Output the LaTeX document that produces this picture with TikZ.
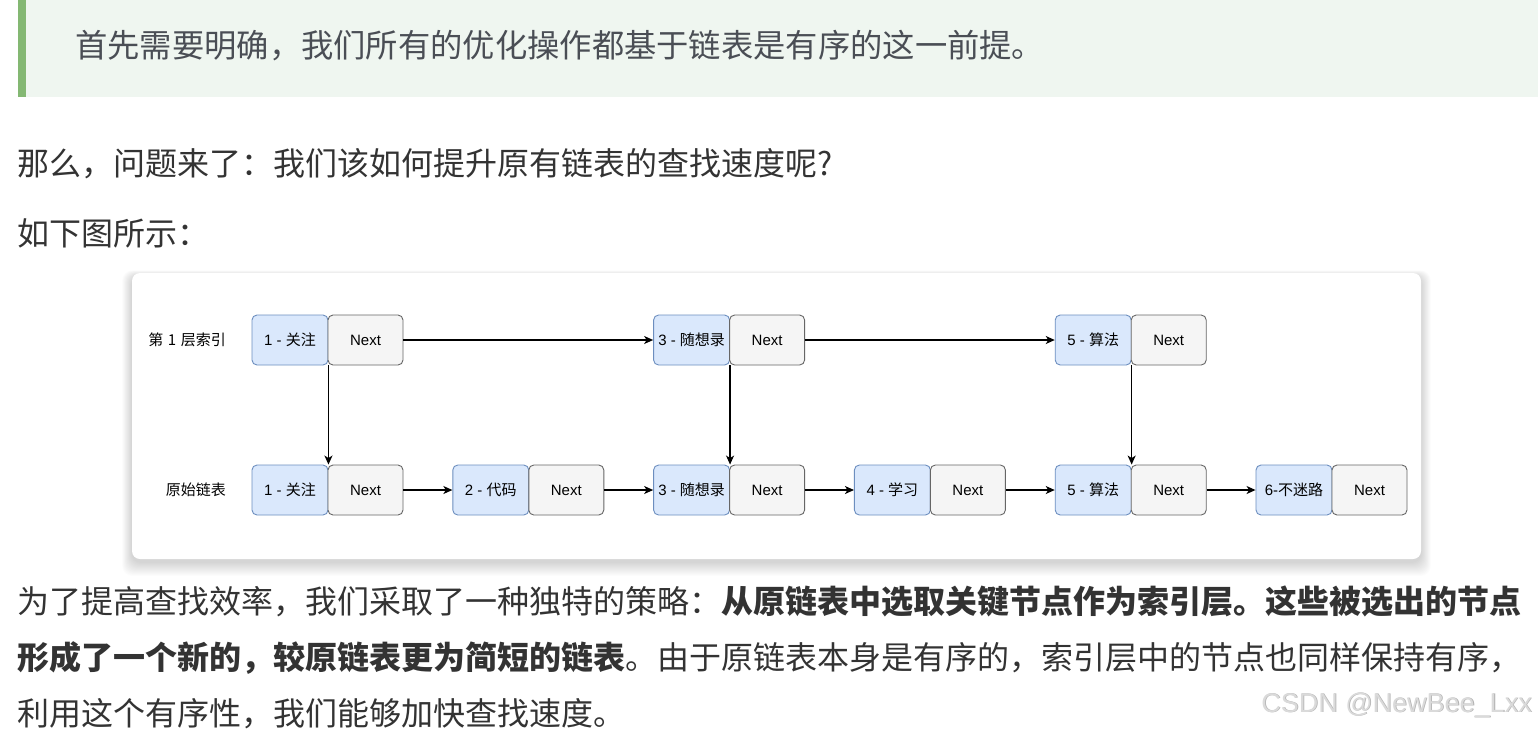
\documentclass[tikz,border=0pt]{standalone}
\usepackage{fontspec}
\setmainfont{Noto Sans CJK SC}
\newfontfamily\latinsans{Liberation Sans}
\usetikzlibrary{arrows.meta}
\definecolor{qbg}{HTML}{EFF6F0}
\definecolor{qbar}{HTML}{84B873}
\definecolor{qtext}{HTML}{4A4E55}
\definecolor{bodytext}{HTML}{333333}
\definecolor{blfill}{HTML}{DAE8FC}
\definecolor{bldraw}{HTML}{6C8EBF}
\definecolor{grfill}{HTML}{F5F5F5}
\definecolor{grdraw}{HTML}{666666}
\definecolor{wmtext}{HTML}{DADADA}
\definecolor{wmshade}{HTML}{B0B0B0}
\begin{document}
\begin{tikzpicture}[x=1pt,y=-1pt,
  bodyline/.style={anchor=base west, inner sep=0pt, text=bodytext, font=\fontsize{32}{40}\selectfont},
  keybox/.style={draw=bldraw, fill=blfill, rounded corners=5pt, minimum width=76pt, minimum height=50pt, inner sep=0pt, line width=0.9pt, font=\fontsize{15}{16}\selectfont},
  nextbox/.style={draw=grdraw, fill=grfill, rounded corners=5pt, minimum width=75pt, minimum height=50pt, inner sep=0pt, line width=0.9pt, font=\latinsans\fontsize{15}{16}\selectfont},
  link/.style={-{Stealth[length=9pt,width=8pt,inset=2.5pt]}, line width=1.3pt, black},
  rowlabel/.style={anchor=east, inner sep=0pt, font=\fontsize{15}{16}\selectfont, text=black}
]
\useasboundingbox (0,0) rectangle (1538,732);
\fill[white] (0,0) rectangle (1538,732);
% blockquote
\fill[qbg] (18,0) rectangle (1538,97);
\fill[qbar] (18,0) rectangle (26,97);
\node[bodyline, text=qtext, font=\fontsize{32.3}{40}\selectfont] (quote) at (75,57) {首先需要明确，我们所有的优化操作都基于链表是有序的这一前提。};
% paragraphs
\node[bodyline] (ask) at (17,175) {那么，问题来了：我们该如何提升原有链表的查找速度呢?};
\node[bodyline] (asfig) at (17,245) {如下图所示：};
% card shadow and card
\foreach \i in {1,...,14} {
  \fill[black, opacity=0.013, rounded corners=10pt] (132-\i*0.7,273-\i*0.4+3) rectangle (1421+\i*0.7,559+\i+3);
}
\fill[white, rounded corners=8pt] (132,273) rectangle (1421,559);
% row labels
\node[rowlabel] (lbltop) at (226,340) {第\hspace{4.5pt}1\hspace{4.5pt}层索引};
\node[rowlabel] (lblbot) at (226,490) {原始链表};
% top row
\node[keybox] (t1k) at (290,340) {{\latinsans 1 - }关注};
\node[nextbox] (t1n) at (365.5,340) {Next};
\node[keybox] (t3k) at (691.6,340) {{\latinsans 3 - }随想录};
\node[nextbox] (t3n) at (767.1,340) {Next};
\node[keybox] (t5k) at (1093.2,340) {{\latinsans 5 - }算法};
\node[nextbox] (t5n) at (1168.7,340) {Next};
% bottom row
\node[keybox] (b1k) at (290,490) {{\latinsans 1 - }关注};
\node[nextbox] (b1n) at (365.5,490) {Next};
\node[keybox] (b2k) at (490.8,490) {{\latinsans 2 - }代码};
\node[nextbox] (b2n) at (566.3,490) {Next};
\node[keybox] (b3k) at (691.6,490) {{\latinsans 3 - }随想录};
\node[nextbox] (b3n) at (767.1,490) {Next};
\node[keybox] (b4k) at (892.4,490) {{\latinsans 4 - }学习};
\node[nextbox] (b4n) at (967.9,490) {Next};
\node[keybox] (b5k) at (1093.2,490) {{\latinsans 5 - }算法};
\node[nextbox] (b5n) at (1168.7,490) {Next};
\node[keybox] (b6k) at (1294,490) {{\latinsans 6-}不迷路};
\node[nextbox] (b6n) at (1369.5,490) {Next};
% links
\draw[link] (t1n.east) -- (t3k.west);
\draw[link] (t3n.east) -- (t5k.west);
\draw[link] (b1n.east) -- (b2k.west);
\draw[link] (b2n.east) -- (b3k.west);
\draw[link] (b3n.east) -- (b4k.west);
\draw[link] (b4n.east) -- (b5k.west);
\draw[link] (b5n.east) -- (b6k.west);
\draw[link] (t1k.south east) -- (b1k.north east);
\draw[link] (t3k.south east) -- (b3k.north east);
\draw[link] (t5k.south east) -- (b5k.north east);
% paragraph after figure
\node[bodyline] (p1) at (17,613) {为了提高查找效率，我们采取了一种独特的策略：\textbf{从原链表中选取关键节点作为索引层。这些被选出的节点}};
\node[bodyline] (p2) at (17,669) {\textbf{形成了一个新的，较原链表更为简短的链表}。由于原链表本身是有序的，索引层中的节点也同样保持有序，};
\node[bodyline] (p3) at (17,725) {利用这个有序性，我们能够加快查找速度。};
% watermark
\node[anchor=east, inner sep=0pt, text=wmshade, font=\latinsans\fontsize{27}{30}\selectfont] (wmshadow) at (1532.8,705.8) {CSDN @NewBee\_Lxx};
\node[anchor=east, inner sep=0pt, text=wmtext, font=\latinsans\fontsize{27}{30}\selectfont] (wm) at (1532,705) {CSDN @NewBee\_Lxx};
\end{tikzpicture}
\end{document}
